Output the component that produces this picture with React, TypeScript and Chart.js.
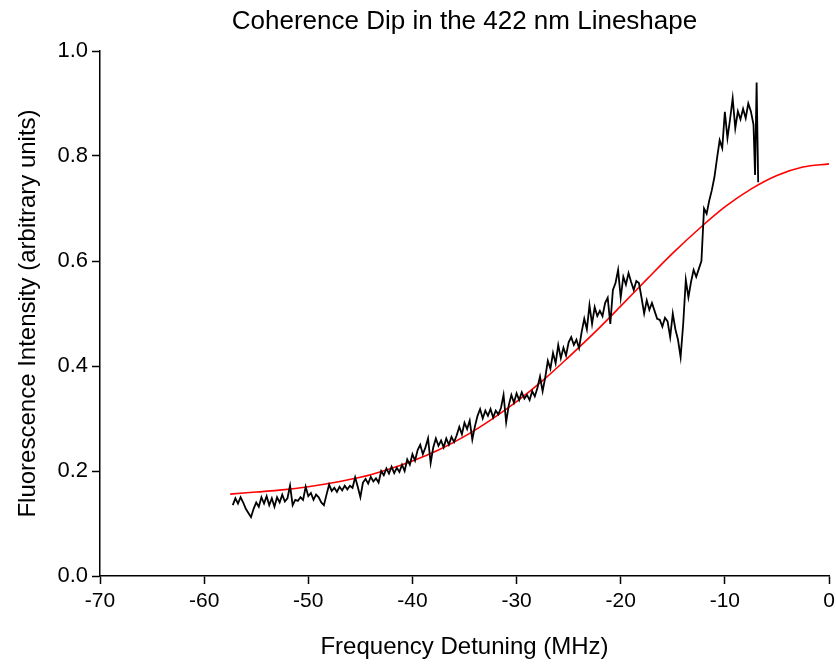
import React, { useEffect, useRef } from "react";
import { Chart, registerables } from "chart.js";

Chart.register(...registerables);

const signalFreq = [
  -57.25, -57.0, -56.75, -56.5, -56.25, -56.0, -55.75, -55.5, -55.25, -55.0, -54.75, -54.5,
  -54.25, -54.0, -53.75, -53.5, -53.25, -53.0, -52.75, -52.5, -52.25, -52.0, -51.75, -51.5,
  -51.25, -51.0, -50.75, -50.5, -50.25, -50.0, -49.75, -49.5, -49.25, -49.0, -48.75, -48.5,
  -48.25, -48.0, -47.75, -47.5, -47.25, -47.0, -46.75, -46.5, -46.25, -46.0, -45.75, -45.5,
  -45.25, -45.0, -44.75, -44.5, -44.25, -44.0, -43.75, -43.5, -43.25, -43.0, -42.75, -42.5,
  -42.25, -42.0, -41.75, -41.5, -41.25, -41.0, -40.75, -40.5, -40.25, -40.0, -39.75, -39.5,
  -39.25, -39.0, -38.75, -38.5, -38.25, -38.0, -37.75, -37.5, -37.25, -37.0, -36.75, -36.5,
  -36.25, -36.0, -35.75, -35.5, -35.25, -35.0, -34.75, -34.5, -34.25, -34.0, -33.75, -33.5,
  -33.25, -33.0, -32.75, -32.5, -32.25, -32.0, -31.75, -31.5, -31.25, -31.0, -30.75, -30.5,
  -30.25, -30.0, -29.75, -29.5, -29.25, -29.0, -28.75, -28.5, -28.25, -28.0, -27.75, -27.5,
  -27.25, -27.0, -26.75, -26.5, -26.25, -26.0, -25.75, -25.5, -25.25, -25.0, -24.75, -24.5,
  -24.25, -24.0, -23.75, -23.5, -23.25, -23.0, -22.75, -22.5, -22.25, -22.0, -21.75, -21.5,
  -21.25, -21.0, -20.75, -20.5, -20.25, -20.0, -19.75, -19.5, -19.25, -19.0, -18.75, -18.5,
  -18.25, -18.0, -17.75, -17.5, -17.25, -17.0, -16.75, -16.5, -16.25, -16.0, -15.75, -15.5,
  -15.25, -15.0, -14.75, -14.5, -14.25, -14.0, -13.75, -13.5, -13.25, -13.0, -12.75, -12.5,
  -12.25, -12.0, -11.75, -11.5, -11.25, -11.0, -10.75, -10.5, -10.25, -10.0, -9.75, -9.5,
  -9.25, -9.0, -8.75, -8.5, -8.25, -8.0, -7.75, -7.5, -7.25, -7.1, -6.95, -6.8,
];

const signalIntensity = [
  0.135, 0.148, 0.138, 0.150, 0.140, 0.128, 0.120, 0.112, 0.128, 0.140, 0.132, 0.150,
  0.138, 0.152, 0.135, 0.148, 0.132, 0.150, 0.140, 0.155, 0.142, 0.148, 0.172, 0.135,
  0.145, 0.143, 0.150, 0.145, 0.170, 0.152, 0.158, 0.145, 0.155, 0.150, 0.140, 0.135,
  0.155, 0.174, 0.162, 0.168, 0.160, 0.170, 0.163, 0.172, 0.165, 0.172, 0.168, 0.188,
  0.170, 0.150, 0.178, 0.185, 0.176, 0.189, 0.180, 0.186, 0.178, 0.200, 0.192, 0.205,
  0.195, 0.208, 0.196, 0.206, 0.198, 0.212, 0.200, 0.222, 0.212, 0.232, 0.220, 0.240,
  0.250, 0.232, 0.245, 0.262, 0.215, 0.245, 0.262, 0.248, 0.258, 0.245, 0.262, 0.250,
  0.265, 0.255, 0.268, 0.284, 0.270, 0.292, 0.280, 0.296, 0.260, 0.285, 0.305, 0.318,
  0.300, 0.315, 0.305, 0.318, 0.302, 0.315, 0.308, 0.320, 0.345, 0.293, 0.325, 0.345,
  0.330, 0.348, 0.335, 0.350, 0.338, 0.345, 0.335, 0.352, 0.342, 0.358, 0.380, 0.352,
  0.378, 0.410, 0.395, 0.425, 0.405, 0.440, 0.415, 0.435, 0.420, 0.445, 0.455, 0.440,
  0.450, 0.434, 0.465, 0.490, 0.470, 0.516, 0.480, 0.512, 0.495, 0.505, 0.495, 0.520,
  0.530, 0.480, 0.545, 0.558, 0.583, 0.530, 0.570, 0.555, 0.577, 0.560, 0.545, 0.562,
  0.558, 0.530, 0.500, 0.525, 0.507, 0.520, 0.505, 0.490, 0.488, 0.475, 0.492, 0.485,
  0.455, 0.500, 0.470, 0.450, 0.417, 0.480, 0.564, 0.531, 0.560, 0.583, 0.570, 0.585,
  0.600, 0.700, 0.690, 0.715, 0.735, 0.760, 0.796, 0.830, 0.815, 0.884, 0.834, 0.870,
  0.910, 0.853, 0.885, 0.870, 0.890, 0.872, 0.900, 0.885, 0.860, 0.764, 0.940, 0.750,
];

const fitFreq = [
  -57.5, -55, -52.5, -50, -47.5, -45, -42.5, -40, -37.5, -35, -32.5, -30,
  -27.5, -25, -22.5, -20, -17.5, -15, -12.5, -10, -7.5, -5, -2.5, 0,
];
const fitIntensity = [
  0.156, 0.160, 0.164, 0.170, 0.178, 0.188, 0.202, 0.219, 0.240, 0.266, 0.297, 0.332,
  0.372, 0.417, 0.464, 0.514, 0.565, 0.615, 0.661, 0.703, 0.737, 0.763, 0.779, 0.785,
];

const xTicks = [-70, -60, -50, -40, -30, -20, -10, 0];
const yTicks = [0.0, 0.2, 0.4, 0.6, 0.8, 1.0];
const chartTitle = "Coherence Dip in the 422 nm Lineshape";

const FONT = "'Liberation Sans', Arial, sans-serif";

const titlePlugin = {
  id: "plotTitle",
  afterDraw(chart: any) {
    const { ctx, chartArea } = chart;
    ctx.save();
    ctx.fillStyle = "#000000";
    ctx.font = `26px ${FONT}`;
    ctx.textAlign = "center";
    ctx.textBaseline = "middle";
    ctx.fillText(chartTitle, (chartArea.left + chartArea.right) / 2, 22);
    ctx.restore();
  },
};

export default function App() {
  const canvasRef = useRef<HTMLCanvasElement | null>(null);

  useEffect(() => {
    if (!canvasRef.current) return;
    const chart = new Chart(canvasRef.current, {
      type: "scatter",
      data: {
        datasets: [
          {
            label: "Signal",
            data: signalFreq.map((x, i) => ({ x, y: signalIntensity[i] })),
            showLine: true,
            borderColor: "#000000",
            borderWidth: 1.8,
            pointRadius: 0,
            tension: 0,
          },
          {
            label: "Fit",
            data: fitFreq.map((x, i) => ({ x, y: fitIntensity[i] })),
            showLine: true,
            borderColor: "#ff0000",
            borderWidth: 1.6,
            pointRadius: 0,
            cubicInterpolationMode: "monotone",
          },
        ],
      },
      plugins: [titlePlugin],
      options: {
        responsive: false,
        animation: false,
        devicePixelRatio: 1,
        layout: { padding: { left: 0, right: 7, top: 51, bottom: 0 } },
        plugins: {
          legend: { display: false },
          tooltip: { enabled: false },
          title: { display: false },
        },
        scales: {
          x: {
            type: "linear",
            min: -70,
            max: 0,
            afterFit: (scale: any) => {
              scale.height = 90;
              scale.paddingRight = 0;
            },
            afterBuildTicks: (scale: any) => {
              scale.ticks = xTicks.map((v) => ({ value: v }));
            },
            ticks: {
              color: "#000000",
              font: { family: FONT, size: 21 },
              padding: 5,
              maxRotation: 0,
              callback: (v: any) => String(v),
            },
            grid: {
              display: true,
              drawOnChartArea: false,
              drawTicks: true,
              tickLength: 8,
              tickColor: "#000000",
              tickWidth: 1.5,
            },
            border: { display: true, color: "#000000", width: 1.5 },
            title: {
              display: true,
              text: "Frequency Detuning (MHz)",
              color: "#000000",
              font: { family: FONT, size: 24, lineHeight: 1.2 },
              padding: { top: 4, bottom: 4 },
            },
          },
          y: {
            type: "linear",
            min: 0,
            max: 1,
            afterFit: (scale: any) => {
              scale.width = 100;
            },
            afterBuildTicks: (scale: any) => {
              scale.ticks = yTicks.map((v) => ({ value: v }));
            },
            ticks: {
              color: "#000000",
              font: { family: FONT, size: 22 },
              padding: 4,
              callback: (v: any) => Number(v).toFixed(1),
            },
            grid: {
              display: true,
              drawOnChartArea: false,
              drawTicks: true,
              tickLength: 8,
              tickColor: "#000000",
              tickWidth: 1.5,
            },
            border: { display: true, color: "#000000", width: 1.5 },
            title: {
              display: true,
              text: "Fluorescence Intensity (arbitrary units)",
              color: "#000000",
              font: { family: FONT, size: 24, lineHeight: 1.2 },
              padding: { top: 14, bottom: 14 },
            },
          },
        },
      },
    });
    return () => chart.destroy();
  }, []);

  return (
    <div style={{ position: "absolute", left: 0, top: 0, width: 836, height: 666, background: "#ffffff" }}>
      <canvas ref={canvasRef} width={836} height={666} style={{ width: 836, height: 666, display: "block" }} />
    </div>
  );
}
